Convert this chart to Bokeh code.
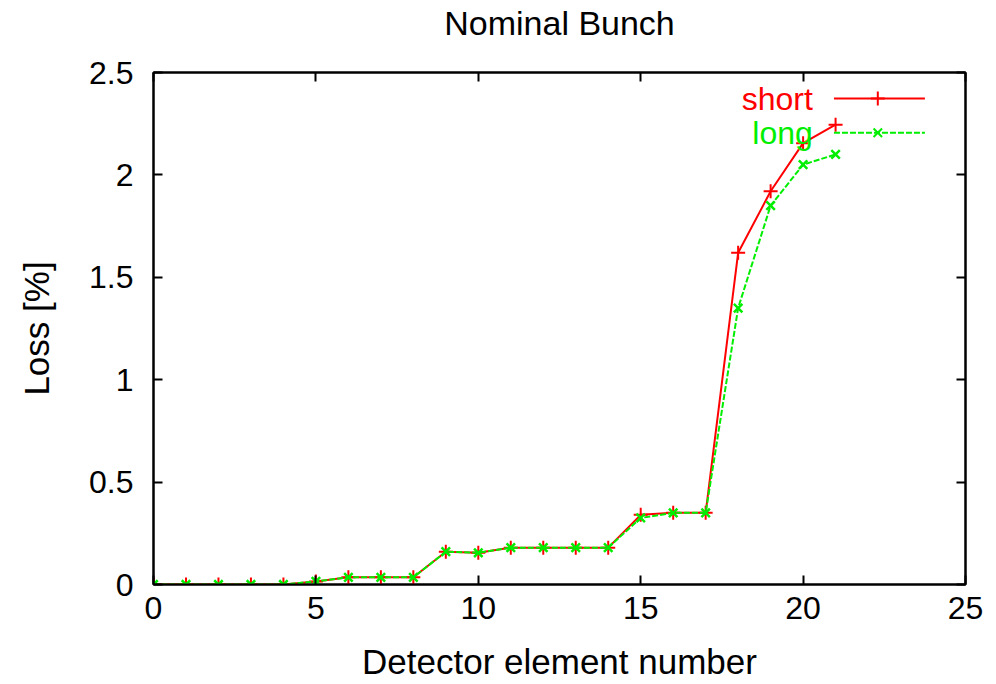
from bokeh.plotting import figure
from bokeh.models import LinearAxis, Range1d, FixedTicker, Label
from bokeh.embed import file_html
from bokeh.resources import INLINE

# Loss per detector element for the nominal bunch
elements = list(range(22))
loss_short = [0, 0, 0, 0, 0, 0.015, 0.035, 0.035, 0.035, 0.16, 0.155,
              0.18, 0.18, 0.18, 0.18, 0.34, 0.35, 0.35, 1.62, 1.92, 2.155, 2.245]
loss_long = [0, 0, 0, 0, 0, 0.015, 0.035, 0.035, 0.035, 0.16, 0.155,
             0.18, 0.18, 0.18, 0.18, 0.325, 0.35, 0.35, 1.35, 1.85, 2.05, 2.10]

x_ticks = [0, 5, 10, 15, 20, 25]
x_tick_labels = ["0", "5", "10", "15", "20", "25"]
y_ticks = [0, 0.5, 1, 1.5, 2, 2.5]
y_tick_labels = ["0", "0.5", "1", "1.5", "2", "2.5"]

FONT = "Liberation Sans"
RED = "#ff0000"
GREEN = "#00ee00"

p = figure(width=996, height=684, x_range=Range1d(0, 25), y_range=Range1d(0, 2.5),
           output_backend="svg", toolbar_location=None,
           min_border_left=153, min_border_right=31, min_border_top=0, min_border_bottom=100)

p.xgrid.visible = False
p.ygrid.visible = False
p.outline_line_color = "black"
p.outline_line_width = 2
p.background_fill_color = "white"
p.border_fill_color = "white"


def style_axis(ax, ticks, labels):
    ax.ticker = FixedTicker(ticks=ticks)
    ax.major_label_overrides = {t: s for t, s in zip(ticks, labels)}
    ax.axis_line_width = 2
    ax.axis_line_color = "black"
    ax.major_tick_in = 9
    ax.major_tick_out = 0
    ax.major_tick_line_width = 2
    ax.minor_tick_line_color = None
    ax.major_label_text_font = FONT
    ax.major_label_text_font_size = "32px"
    ax.major_label_text_color = "black"
    ax.axis_label_text_font = FONT
    ax.axis_label_text_font_size = "35px"
    ax.axis_label_text_font_style = "normal"
    ax.axis_label_text_color = "black"


style_axis(p.xaxis[0], x_ticks, x_tick_labels)
style_axis(p.yaxis[0], y_ticks, y_tick_labels)
p.xaxis.axis_label = "Detector element number"
p.yaxis.axis_label = "Loss [%]"
p.xaxis.major_label_standoff = 12
p.xaxis.axis_label_standoff = 20
p.yaxis.major_label_standoff = 20
p.yaxis.axis_label_standoff = 30

# mirrored tick marks on the top and right edges; the top one carries the title
top = LinearAxis()
right = LinearAxis()
for ax, ticks in ((top, x_ticks), (right, y_ticks)):
    style_axis(ax, ticks, ["" for _ in ticks])
    ax.major_label_text_font_size = "0px"
    ax.major_label_standoff = 0
top.axis_label = "Nominal Bunch"
top.axis_label_text_font_size = "34px"
top.axis_label_standoff = 31
p.add_layout(top, "above")
p.add_layout(right, "right")

# data series
p.line(elements, loss_short, line_color=RED, line_width=2)
p.scatter(elements, loss_short, marker="cross", size=14, line_color=RED, line_width=2)
p.line(elements, loss_long, line_color=GREEN, line_width=2, line_dash="6 2")
p.scatter(elements, loss_long, marker="x", size=12, line_color=GREEN, line_width=2.5)

# key in the upper right corner: label, then line sample with marker
key_text_x = 20.3
key_line_x0, key_line_x1, key_mark_x = 20.95, 23.75, 22.3
key_rows = [("short", 2.373, RED, "solid", "cross", 14),
            ("long", 2.206, GREEN, "6 2", "x", 12)]
for name, ky, col, dash, mk, sz in key_rows:
    p.add_layout(Label(x=key_text_x, y=ky, text=name, text_align="right",
                       text_baseline="middle", text_font=FONT,
                       text_font_size="32px", text_color=col))
    p.line([key_line_x0, key_line_x1], [ky, ky], line_color=col, line_width=2, line_dash=dash)
    p.scatter([key_mark_x], [ky], marker=mk, size=sz, line_color=col, line_width=2)

open("out.html", "w").write(file_html(p, INLINE))
